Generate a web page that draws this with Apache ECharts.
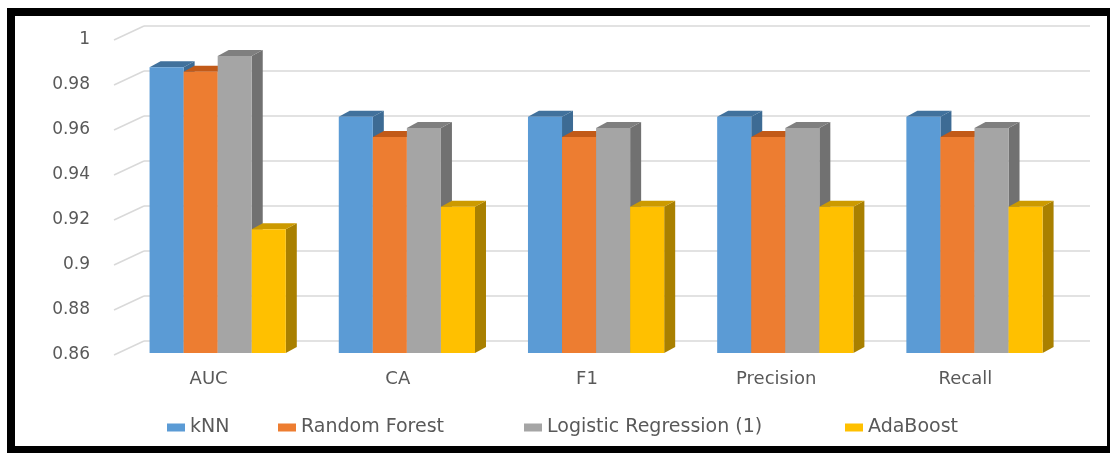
<!DOCTYPE html>
<html>
<head>
  <meta charset="UTF-8">
  <title>Model scores</title>
  <script src="https://cdn.jsdelivr.net/npm/echarts@6/dist/echarts.min.js"></script>
  <style>
    html, body { margin: 0; padding: 0; background: #fff; }
    #main { width: 1110px; height: 453px; }
  </style>
</head>
<body>
<div id="main"></div>
<script type="text/javascript">
  // data
  var categories = ['AUC', 'CA', 'F1', 'Precision', 'Recall'];
  var models = ['kNN', 'Random Forest', 'Logistic Regression (1)', 'AdaBoost'];
  var knn = [0.987, 0.965, 0.965, 0.965, 0.965];
  var randomForest = [0.985, 0.956, 0.956, 0.956, 0.956];
  var logReg = [0.992, 0.960, 0.960, 0.960, 0.960];
  var adaBoost = [0.915, 0.925, 0.925, 0.925, 0.925];
  var yTicks = [0.86, 0.88, 0.9, 0.92, 0.94, 0.96, 0.98, 1];

  var values = [knn, randomForest, logReg, adaBoost];
  // front, top, side colours of the fake 3d columns
  var faces = [
    ['#5B9BD5', '#41719C', '#3D6B94'],
    ['#ED7D31', '#C25A18', '#B4561E'],
    ['#A5A5A5', '#7F7F7F', '#717171'],
    ['#FFC000', '#CC9A00', '#A98000']
  ];
  var yMin = 0.86, yMax = 1;
  var DX = 11, DY = 6;      // depth of a column
  var WALL_DX = 30, WALL_DY = -14;  // back wall offset
  var legendLeft = [167, 278, 524, 845];

  var myChart = echarts.init(document.getElementById('main'));

  function barSeries(idx) {
    return {
      name: models[idx],
      type: 'custom',
      xAxisIndex: 0,
      yAxisIndex: 0,
      itemStyle: { color: faces[idx][0] },
      data: values[idx].map(function (v, i) { return [i, v]; }),
      renderItem: function (params, api) {
        var top = api.coord([api.value(0), api.value(1)]);
        var base = api.coord([api.value(0), yMin]);
        var band = api.size([1, 0])[0];
        var w = band * 0.18;
        var x0 = top[0] - band * 0.312 + idx * w;
        var x1 = x0 + w;
        var yt = top[1] - 2;
        var yb = base[1] - 2;
        var c = faces[idx];
        return {
          type: 'group',
          children: [
            { type: 'polygon', shape: { points: [[x1, yt], [x1 + DX, yt - DY], [x1 + DX, yb - DY], [x1, yb]] },
              style: { fill: c[2] } },
            { type: 'polygon', shape: { points: [[x0, yt], [x1, yt], [x1 + DX, yt - DY], [x0 + DX, yt - DY]] },
              style: { fill: c[1] } },
            { type: 'rect', shape: { x: x0, y: yt, width: w, height: yb - yt },
              style: { fill: c[0] } }
          ]
        };
      }
    };
  }

  var series = [
    {
      // slanted lines on the side wall
      type: 'custom',
      xAxisIndex: 0,
      yAxisIndex: 0,
      silent: true,
      data: yTicks.map(function (t) { return [0, t]; }),
      renderItem: function (params, api) {
        var p = api.coord([0, api.value(1)]);
        var x = params.coordSys.x;
        return {
          type: 'line',
          shape: { x1: x, y1: p[1], x2: x + WALL_DX, y2: p[1] + WALL_DY },
          style: { stroke: '#D9D9D9', lineWidth: 1.5 }
        };
      }
    }
  ];
  for (var k = 0; k < models.length; k++) series.push(barSeries(k));

  // one legend per item so each sits where the original has it
  var legends = models.map(function (name, i) {
    return {
      data: [name],
      left: legendLeft[i],
      top: 418,
      padding: 0,
      icon: 'rect',
      itemWidth: 18,
      itemHeight: 8,
      textStyle: { color: '#595959', fontSize: 19, fontFamily: 'DejaVu Sans' }
    };
  });

  var option = {
    backgroundColor: '#fff',
    animation: false,
    textStyle: { fontFamily: 'DejaVu Sans' },
    graphic: [
      { type: 'rect', shape: { x: 7, y: 8, width: 1103, height: 8 }, style: { fill: '#000' } },
      { type: 'rect', shape: { x: 7, y: 8, width: 8, height: 445 }, style: { fill: '#000' } },
      { type: 'rect', shape: { x: 7, y: 446, width: 1103, height: 7 }, style: { fill: '#000' } },
      { type: 'rect', shape: { x: 1107, y: 8, width: 3, height: 445 }, style: { fill: '#000' } }
    ],
    legend: legends,
    grid: [
      { left: 114, right: 50, top: 40, bottom: 98 },
      { left: 114 + WALL_DX, right: 50 - WALL_DX, top: 40 + WALL_DY, bottom: 98 - WALL_DY }
    ],
    xAxis: [
      {
        type: 'category',
        gridIndex: 0,
        data: categories,
        axisLine: { show: false },
        axisTick: { show: false },
        axisLabel: { color: '#595959', fontSize: 18, margin: 15 }
      },
      {
        type: 'category',
        gridIndex: 1,
        data: categories,
        show: false
      }
    ],
    yAxis: [
      {
        type: 'value',
        gridIndex: 0,
        min: yMin,
        max: yMax,
        interval: 0.02,
        axisLine: { show: false },
        axisTick: { show: false },
        splitLine: { show: false },
        axisLabel: { color: '#595959', fontSize: 17, margin: 24 }
      },
      {
        type: 'value',
        gridIndex: 1,
        min: yMin,
        max: yMax,
        interval: 0.02,
        axisLine: { show: false },
        axisTick: { show: false },
        axisLabel: { show: false },
        splitLine: { lineStyle: { color: '#D9D9D9', width: 1.5 } }
      }
    ],
    series: series
  };

  myChart.setOption(option);
</script>
</body>
</html>
